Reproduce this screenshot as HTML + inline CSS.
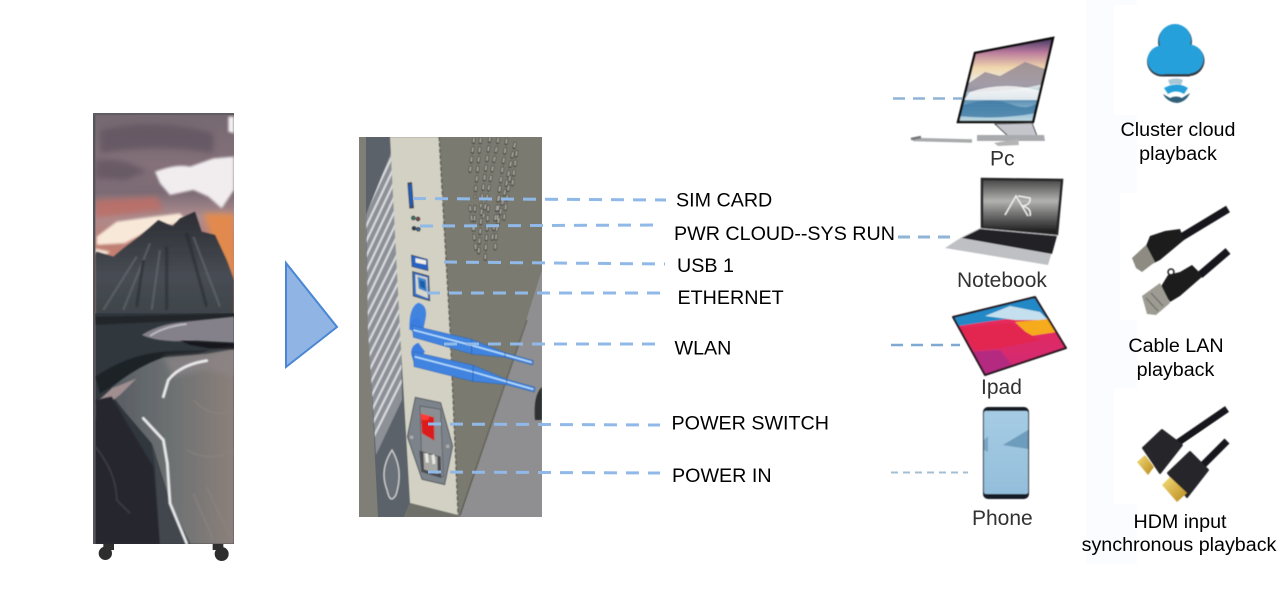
<!DOCTYPE html>
<html lang="en">
<head>
<meta charset="utf-8">
<title>Device connection diagram</title>
<style>
html,body{margin:0;padding:0;background:#fff;width:1283px;height:589px;overflow:hidden}
svg{display:block}
text{font-family:"Liberation Sans",Arial,sans-serif;font-size:19.7px;fill:#000}
.g{fill:#333;font-size:21px}
.d{fill:none;stroke:#91b9e8;stroke-width:3;stroke-dasharray:13 9}
.t{fill:none;stroke:#8fb4d6;stroke-width:2.5;stroke-dasharray:12 8}
</style>
</head>
<body>
<svg width="1283" height="589" viewBox="0 0 1283 589" xmlns="http://www.w3.org/2000/svg">
<defs>
<filter id="b1" x="-5%" y="-5%" width="110%" height="110%"><feGaussianBlur stdDeviation="2.2"/></filter>
<filter id="b4" x="-20%" y="-20%" width="140%" height="140%"><feGaussianBlur stdDeviation="4"/></filter>
<filter id="b2" x="-30%" y="-30%" width="160%" height="160%"><feGaussianBlur stdDeviation="9"/></filter>
<filter id="b3" x="-5%" y="-5%" width="110%" height="110%"><feGaussianBlur stdDeviation="0.55"/></filter>
<filter id="b5" x="-15%" y="-15%" width="130%" height="130%"><feGaussianBlur stdDeviation="1.5"/></filter>
<filter id="bt"><feGaussianBlur stdDeviation="0.35"/></filter>
<clipPath id="posterClip"><rect x="40" y="40" width="422" height="1292"/></clipPath>
<clipPath id="devClip"><rect x="359" y="137" width="183" height="380"/></clipPath>
<clipPath id="stripeClip"><polygon points="366,215 392,150 401,330 402,400 376,455 368,330"/></clipPath>
<clipPath id="pcClip"><polygon points="975,53 1053,38 1033,122 958,122"/></clipPath>
<clipPath id="padClip"><polygon points="953,317 1035,297 1066,348 985,375"/></clipPath>
<linearGradient id="sky" x1="0" y1="0" x2="0" y2="1">
<stop offset="0" stop-color="#756870"/><stop offset=".25" stop-color="#84717a"/><stop offset=".38" stop-color="#7b6b74"/>
<stop offset=".5" stop-color="#ad8d90"/><stop offset=".62" stop-color="#bb7d74"/><stop offset=".8" stop-color="#d5866c"/><stop offset="1" stop-color="#ee9a58"/>
</linearGradient>
<linearGradient id="sand" x1="0" y1="0" x2="1" y2="0">
<stop offset="0" stop-color="#585d63"/><stop offset=".5" stop-color="#6d7172"/><stop offset="1" stop-color="#8c807b"/>
</linearGradient>
<linearGradient id="mnt" x1="0" y1="0" x2="0" y2="1">
<stop offset="0" stop-color="#2c2d33"/><stop offset=".6" stop-color="#474c53"/><stop offset="1" stop-color="#3d4349"/>
</linearGradient>
<linearGradient id="pcs" x1="0" y1="0" x2="0" y2="1">
<stop offset="0" stop-color="#3f3560"/><stop offset=".17" stop-color="#b97a9c"/><stop offset=".35" stop-color="#efd6ac"/><stop offset=".55" stop-color="#eef0ee"/><stop offset=".75" stop-color="#5f93b6"/><stop offset="1" stop-color="#c3dde6"/>
</linearGradient>
<linearGradient id="nbs" x1="0" y1="0" x2="0" y2="1">
<stop offset="0" stop-color="#444"/><stop offset=".4" stop-color="#b2b2b0"/><stop offset=".65" stop-color="#6f6f6f"/><stop offset="1" stop-color="#141414"/>
</linearGradient>
<linearGradient id="pad" x1="0" y1="0" x2="0" y2="1">
<stop offset="0" stop-color="#f02a4e"/><stop offset="1" stop-color="#cf2a78"/>
</linearGradient>
<linearGradient id="ph" x1="0" y1="0" x2="0" y2="1">
<stop offset="0" stop-color="#a6cce4"/><stop offset="1" stop-color="#93bedb"/>
</linearGradient>
<linearGradient id="gold" x1="0" y1="0" x2="1" y2="1">
<stop offset="0" stop-color="#f5dc7a"/><stop offset="1" stop-color="#b98a1c"/>
</linearGradient>
</defs>

<!-- faint background panels -->
<g fill="#fbfcff">
<rect x="1086" y="0" width="51" height="5"/>
<rect x="1086" y="5" width="28" height="110"/>
<rect x="1086" y="115" width="51" height="78"/>
<rect x="1086" y="193" width="34" height="127"/>
<rect x="1086" y="320" width="51" height="68"/>
<rect x="1086" y="388" width="28" height="116"/>
<rect x="1086" y="504" width="51" height="60"/>
</g>

<!-- poster -->
<g transform="translate(80 100) scale(.33333)">
<g clip-path="url(#posterClip)">
<rect x="40" y="40" width="422" height="620" fill="url(#sky)"/>
<g filter="url(#b2)">
<path d="M60 90 Q220 50 400 100 L400 160 Q240 130 60 160Z" fill="#5e525e" opacity=".7"/>
<path d="M46 180 Q130 170 200 215 L140 240 L46 235Z" fill="#5e525e" opacity=".7"/>
<path d="M46 300 L230 290 L250 330 L46 355Z" fill="#bd6f66" opacity=".85"/>
<path d="M370 340 L462 340 L462 530 L425 500Z" fill="#e28a4e"/>
</g>
<g filter="url(#b4)">
<path d="M225 215 Q290 190 330 200 L400 175 L462 170 L462 270 L425 325 L385 290 L340 270 L270 285 L240 250Z" fill="#f1edef"/>
<path d="M445 50 L462 50 L462 100 L445 95Z" fill="#f3f1f2"/>
<path d="M50 410 L110 365 L220 350 L300 340 L320 362 L200 395 L135 430 L50 435Z" fill="#f8e8d8"/>
<path d="M46 445 L90 455 L70 472 L46 465Z" fill="#f3e6d8"/>
</g>
<path d="M50 455 L100 470 L130 445 L180 408 L235 360 L262 372 L278 378 L300 355 L345 335 L365 395 L405 405 L440 480 L462 540 L462 650 L46 655 L46 460Z" fill="url(#mnt)" filter="url(#b1)"/>
<g fill="none" opacity=".5" filter="url(#b1)">
<g stroke="#6e7379" stroke-width="7"><path d="M210 430 L130 630"/><path d="M170 470 L70 630"/><path d="M340 410 L420 620"/><path d="M240 450 L215 630"/></g>
<g stroke="#24262b" stroke-width="9"><path d="M260 440 L260 630"/><path d="M320 400 L380 620"/><path d="M190 480 L170 620"/></g>
</g>
<rect x="46" y="640" width="416" height="700" fill="#30373d"/>
<path d="M46 650 L462 640 L462 655 L46 675Z" fill="#23282c" filter="url(#b1)"/>
<path d="M185 705 Q240 670 320 665 L462 650 L462 728 L350 722 Q240 730 185 705Z" fill="#85818a" filter="url(#b1)"/>
<path d="M210 708 Q250 680 320 672" stroke="#c5c4c8" stroke-width="5" fill="none" filter="url(#b1)"/>
<path d="M300 722 L462 730 L462 748 L390 745 L330 735Z" fill="#16191c" filter="url(#b1)"/>
<path d="M46 830 Q150 760 260 755 L390 750 L340 768 L200 800 L60 880Z" fill="#1f2428" filter="url(#b1)"/>
<path d="M95 862 Q170 800 250 772 L380 762 L462 748 L462 1332 L330 1332 L270 1210 L215 1030 L130 930 L95 885Z" fill="url(#sand)" filter="url(#b1)"/>
<path d="M250 772 L380 762 L462 748 L462 830 L380 810 L280 830Z" fill="#8d8588" opacity=".7" filter="url(#b2)"/>
<path d="M95 865 L170 835 L120 885 L60 930 L46 960 L46 910Z" fill="#a08e90" filter="url(#b1)"/>
<path d="M46 900 L95 890 L135 960 L220 1100 L240 1332 L46 1332Z" fill="#26282e" filter="url(#b1)"/>
<path d="M215 1030 L270 1210 L330 1332 L240 1332 L225 1100Z" fill="#43474e" filter="url(#b1)"/>
<path d="M46 1040 Q110 1120 110 1200 L150 1240" stroke="#3f3d45" stroke-width="5" fill="none" filter="url(#b1)"/>
<g fill="none" stroke="#e8e8ea" filter="url(#b1)" stroke-linecap="round">
<path d="M250 890 L265 840 Q300 795 380 782" stroke-width="9"/>
<path d="M190 955 L250 1020 L262 1090 L270 1210 L320 1330" stroke-width="9"/>
</g>
<g fill="none" stroke="#8d8684" stroke-width="6" opacity=".5" filter="url(#b1)">
<path d="M340 900 Q400 960 460 930"/><path d="M320 1050 Q390 1090 460 1050"/><path d="M340 1180 L400 1320"/><path d="M380 1160 L450 1310"/>
</g>
</g>
<rect x="39" y="40" width="7" height="1292" fill="#56565a"/>
<rect x="39" y="39" width="423" height="6" fill="#5f5d62"/>
<g fill="#2e2e2f" filter="url(#b3)">
<rect x="70" y="1332" width="32" height="18"/>
<circle cx="76" cy="1360" r="20"/>
<rect x="398" y="1332" width="32" height="18"/>
<circle cx="425" cy="1362" r="21"/>
</g>
</g>

<!-- triangle -->
<polygon points="286,263 337,327 286,367" fill="#90b5e4" stroke="#4a86d4" stroke-width="2"/>

<!-- device -->
<g clip-path="url(#devClip)">
<rect x="359" y="137" width="183" height="380" fill="#7b7a70"/>
<polygon points="542,270 523,330 460,517 542,517" fill="#8f8e90"/>
<polygon points="359,137 366,137 378,517 359,517" fill="#7f7f78"/>
<polygon points="366,137 390,137 400,330 410,503 404,517 378,517 372,400 366,250" fill="#5c626a"/>
<g filter="url(#b3)">
<polygon points="366,215 392,150 401,330 402,400 376,455 368,330" fill="#8d9197"/>
<g clip-path="url(#stripeClip)" stroke="#d6d8da" stroke-width="2.2">
<path d="M362 205 L400 125"/><path d="M362 220 L400 140"/><path d="M362 235 L400 155"/><path d="M362 250 L400 170"/><path d="M362 265 L400 185"/><path d="M362 280 L400 200"/><path d="M362 295 L400 215"/><path d="M362 310 L400 230"/><path d="M362 325 L402 245"/><path d="M362 340 L402 260"/><path d="M362 355 L402 275"/><path d="M362 370 L402 290"/><path d="M362 385 L402 305"/><path d="M362 400 L402 320"/><path d="M362 415 L402 335"/><path d="M362 430 L402 350"/><path d="M362 445 L402 365"/><path d="M362 460 L402 380"/>
</g>
<path d="M387 490 Q379 470 392 450 Q404 470 396 495 Q390 505 387 490Z" fill="#6b7077" stroke="#c9cbcd" stroke-width="1.5"/>
<polygon points="390,137 439,137 450,330 458,515 410,503 400,330" fill="#d2d1c4"/>
<path d="M439 137 L450 330 L458 515" stroke="#55544e" stroke-width="1.2" fill="none" stroke-dasharray="4 2"/>
<polygon points="410,503 458,515 458,517 404,517" fill="#6f6f6a"/>
<path d="M527 320 L460 515" stroke="#5f5e57" stroke-width="1.2" fill="none"/>
<path d="M535 420 Q533 395 542 387 L542 420Z" fill="#2f3030"/>
<!-- vents -->
<g fill="none" stroke-linecap="round" transform="translate(350 130) scale(.33333)">
<g stroke="#44443f" stroke-width="9" stroke-dasharray="13 16">
<path d="M372 25 L360 125"/><path d="M392 25 L375 200"/><path d="M420 22 L392 230"/><path d="M445 25 L400 260"/><path d="M470 28 L425 340"/><path d="M495 40 L440 300"/><path d="M375 230 L372 300"/><path d="M395 240 L385 380"/><path d="M415 230 L405 395"/><path d="M450 170 L435 360"/><path d="M480 140 L460 280"/><path d="M500 65 L485 180"/><path d="M360 230 L378 360"/>
</g>
<g stroke="#a8a79f" stroke-width="5" stroke-dasharray="11 18">
<path d="M372 25 L360 125"/><path d="M392 25 L375 200"/><path d="M420 22 L392 230"/><path d="M445 25 L400 260"/><path d="M470 28 L425 340"/><path d="M495 40 L440 300"/><path d="M375 230 L372 300"/><path d="M395 240 L385 380"/><path d="M415 230 L405 395"/><path d="M450 170 L435 360"/><path d="M480 140 L460 280"/><path d="M500 65 L485 180"/><path d="M360 230 L378 360"/>
</g>
</g>
<!-- ports -->
<g transform="translate(350 130) scale(.33333)">
<polygon points="172,158 186,156 192,235 178,236" fill="#3a4a60"/>
<polygon points="176,165 184,164 187,228 181,228" fill="#1f5fc4"/>
<g fill="#2e3e48"><circle cx="190" cy="264" r="7"/><circle cx="204" cy="267" r="7"/><circle cx="192" cy="295" r="7"/><circle cx="205" cy="298" r="7"/></g>
<circle cx="190" cy="264" r="3" fill="#3aa060"/><circle cx="204" cy="267" r="3" fill="#c04040"/><circle cx="205" cy="298" r="3" fill="#4080d0"/>
<polygon points="184,375 232,388 234,422 186,410" fill="#2763c4" stroke="#3b3f45" stroke-width="2"/>
<polygon points="196,384 228,391 228,404 197,398" fill="#f0efe6"/>
<polygon points="188,425 236,438 239,512 190,498" fill="#2d6fc8" stroke="#44484e" stroke-width="3"/>
<polygon points="196,433 232,443 234,505 198,491" fill="#d8d7ca"/>
<polygon points="203,440 228,448 231,486 206,476" fill="#3f86cf"/>
<polygon points="208,450 224,455 226,478 211,470" fill="#1f5fa8"/>
<path d="M178 590 Q178 530 205 518 Q232 525 228 560 L220 600 L178 600Z" fill="#3f84e0"/>
</g>
<!-- antennas and fuse -->
<g transform="translate(350 320) scale(.33333)">
<path d="M180 22 Q176 0 205 -8 L222 35 Q190 52 180 22Z" fill="#3a7de0"/>
<path d="M186 16 L365 58 L465 98 L550 122 L548 135 L465 112 L365 102 L190 52 Z" fill="#3f84e0" stroke="#2b5fa8" stroke-width="1.5"/>
<path d="M190 30 L365 76 L465 104 L545 127" fill="none" stroke="#b5dbfb" stroke-width="5"/>
<path d="M365 58 L365 102 M465 98 L465 112" stroke="#2458a4" stroke-width="2" fill="none"/>
<path d="M184 105 Q180 78 205 68 L225 95 L195 140Z" fill="#3a7de0"/>
<path d="M190 95 L370 136 L470 178 L555 202 L553 216 L470 194 L368 184 L192 140 Z" fill="#3f84e0" stroke="#2b5fa8" stroke-width="1.5"/>
<path d="M194 110 L370 156 L470 185 L550 208" fill="none" stroke="#b5dbfb" stroke-width="5"/>
<path d="M370 136 L368 184 M470 178 L470 194" stroke="#2458a4" stroke-width="2" fill="none"/>
<polygon points="196,232 272,248 308,378 284,494 216,478 172,350" fill="#7d838b" stroke="#52565c" stroke-width="3"/>
<polygon points="210,258 272,268 280,470 216,452" fill="#8b8e92" stroke="#4e5257" stroke-width="2"/>
<polygon points="212,281 252,292 253,362 216,340" fill="#dc1a1c"/>
<polygon points="212,281 240,288 234,300 215,300" fill="#ff3a30"/>
<polygon points="208,392 272,410 274,474 214,456" fill="#4b4e52"/>
<polygon points="220,398 262,410 263,462 222,448" fill="#a7a8a4"/>
<g fill="#e6e6e2"><rect x="226" y="400" width="9" height="28" transform="rotate(-6 230 414)"/><rect x="246" y="404" width="9" height="28" transform="rotate(-6 250 418)"/></g>
<circle cx="185" cy="352" r="7" fill="#a8aaab" stroke="#555"/><circle cx="293" cy="379" r="7" fill="#a8aaab" stroke="#555"/>
</g>
</g>
</g>

<!-- connectors (device) -->
<path class="d" d="M413 198.500 L666 200"/>
<path class="d" d="M420 226 L655 225"/>
<path class="d" d="M444 262 L665 264"/>
<path class="d" d="M427 293 L663 293"/>
<path class="d" d="M444 344 L660 344"/>
<path class="d" d="M428 424 L660 425"/>
<path class="d" d="M428 472 L660 473"/>

<!-- device labels -->
<text x="676" y="206.500">SIM CARD</text>
<text x="674" y="240">PWR CLOUD--SYS RUN</text>
<text x="677" y="272">USB 1</text>
<text x="677.500" y="304">ETHERNET</text>
<text x="674.500" y="354.500">WLAN</text>
<text x="671.500" y="429.500">POWER SWITCH</text>
<text x="672" y="482">POWER IN</text>

<!-- connectors (clients) -->
<path class="t" d="M893 98.500 L962 98.500" stroke-dasharray="10 6"/>
<path class="t" d="M898 237 L958 237" style="stroke-width:3"/>
<path class="t" d="M891 345 L960 345" style="stroke:#7fa9d0"/>
<path class="t" d="M891 472.500 L968 472.500" style="stroke:#a5bfd2;stroke-width:2;stroke-dasharray:7 5"/>

<!-- PC -->
<g filter="url(#b3)">
<polygon points="975,53 1053,38 1033,122 958,122" fill="url(#pcs)"/>
<g clip-path="url(#pcClip)">
<path d="M966 85 L985 72 L1000 76 L1025 62 L1048 70 L1044 84 Q1010 92 966 92Z" fill="#8a8090" opacity=".75"/>
<path d="M970 92 Q1005 80 1045 92 L1040 100 L964 100Z" fill="#fbfbfa" opacity=".8"/>
<path d="M960 106 Q990 96 1010 104 T1040 100 L1036 113 Q1000 120 958 116Z" fill="#3f7ba5" opacity=".8"/>
</g>
<polygon points="975,53 1053,38 1033,122 958,122" fill="none" stroke="#111" stroke-width="2.500"/>
<polygon points="995,124 1032,123 1037,136 1008,136" fill="#c4c6cc" stroke="#444" stroke-width="1"/>
<polygon points="977,135 1044,135 1045,141 977,141" fill="#a9aaae"/>
<polygon points="994,143 1018,139 1019,145 998,146" fill="#b4b4b6"/>
<path d="M913 139.500 L972 141" stroke="#a9aaac" stroke-width="3.500"/>
<path d="M911 139 L921 137" stroke="#777" stroke-width="2.500"/>
</g>
<text class="g" x="990" y="165.500" filter="url(#bt)">Pc</text>

<!-- Notebook -->
<g filter="url(#b3)">
<polygon points="982,179 1062,180 1057,234 982,228" fill="url(#nbs)" stroke="#252527" stroke-width="2.500"/>
<polygon points="980,228 1057,235 1048,265 945,248 962,237" fill="#bfc0c4"/>
<polygon points="980,229 1057,236 1052,254 962,238" fill="#222327"/>
<path d="M1005 215 L1016 196 L1028 216 M1018 196 L1030 198 Q1031 205 1022 206 Q1032 208 1030 216" stroke="#eee" stroke-width="1.500" fill="none"/>
</g>
<text class="g" x="957" y="287" filter="url(#bt)">Notebook</text>

<!-- Ipad -->
<g filter="url(#b3)">
<polygon points="953,317 1035,297 1066,348 985,375" fill="url(#pad)"/>
<g clip-path="url(#padClip)">
<polygon points="950,316 1036,296 1050,320 1015,318 985,322 958,326" fill="#2389c6"/>
<polygon points="985,316 1010,306 1040,312 1048,320 1015,320" fill="#c4e0ee"/>
<polygon points="1015,322 1049,319 1057,332 1030,336" fill="#f6ab1e"/>
<polygon points="960,328 1010,323 1040,340 1000,348 975,350" fill="#e2254f"/>
<polygon points="972,352 1000,350 1012,365 985,376" fill="#b42a80"/>
</g>
<polygon points="953,317 1035,297 1066,348 985,375" fill="none" stroke="#22181f" stroke-width="2" stroke-linejoin="round"/>
</g>
<text class="g" x="981" y="394" filter="url(#bt)">Ipad</text>

<!-- Phone -->
<g filter="url(#b3)">
<rect x="983" y="407" width="46" height="92" rx="5" fill="#141a26"/>
<rect x="984" y="411" width="44" height="83" rx="2" fill="url(#ph)"/>
<path d="M1003 445 L1028 430 L1028 449 Q1015 447 1003 445Z" fill="#6d9cbc"/>
<path d="M984 440 L988 436 L988 452 L984 450Z" fill="#7aa5c2"/>
</g>
<text class="g" x="972" y="525" filter="url(#bt)">Phone</text>

<!-- Cloud -->
<g transform="translate(1080 0)" filter="url(#b3)">
<g fill="#33383c" transform="translate(0 1.500)">
<circle cx="95" cy="40" r="17"/><circle cx="82" cy="60" r="15"/><circle cx="109" cy="59" r="15.500"/><rect x="82" y="50" width="28" height="25"/>
</g>
<g fill="#26a0da">
<circle cx="95" cy="40" r="16"/><circle cx="82" cy="60" r="14.500"/><circle cx="109" cy="59" r="14.500"/><rect x="80" y="44" width="30" height="30"/>
</g>
<path d="M88 80 Q97 77 103 80 L101 85 Q96 83 90 85Z" fill="#a9c8d6"/>
<path d="M84 88 Q97 81 108 88 L104 94 Q96 89 88 94Z" fill="#26a0da"/>
<path d="M83 94 L90 98 Q96 95 102 98 L110 93 Q106 102 97 103 Q87 102 83 94Z" fill="#30607a"/>
</g>
<text x="1178" y="136" text-anchor="middle">Cluster cloud</text>
<text x="1178" y="160" text-anchor="middle">playback</text>

<!-- LAN cable -->
<g filter="url(#b3)">
<path d="M1180 238 L1228 209" stroke="#17171a" stroke-width="7.500" fill="none"/>
<path d="M1200 275 L1228 251" stroke="#17171a" stroke-width="7.500" fill="none"/>
<polygon points="1146,246 1150,236 1165,231 1180,229 1184,240 1160,260 1152,264" fill="#1a1a1d"/>
<polygon points="1132,258 1146,245 1155,262 1142,272 1136,268" fill="#8d8b82"/>
<polygon points="1168,275 1180,272 1192,265 1203,276 1180,296 1170,302 1160,288" fill="#1a1a1d"/>
<circle cx="1171" cy="272" r="3" fill="none" stroke="#222" stroke-width="1.500"/>
<polygon points="1142,296 1160,283 1170,303 1156,315 1147,314" fill="#9d9b92"/>
<path d="M1146 298 L1158 311 M1151 293 L1163 306" stroke="#666" stroke-width="1"/>
</g>
<text x="1176" y="352" text-anchor="middle">Cable LAN</text>
<text x="1175.500" y="376" text-anchor="middle">playback</text>

<!-- HDMI cable -->
<g filter="url(#b3)">
<path d="M1176 444 L1227 409" stroke="#17171a" stroke-width="7" fill="none"/>
<path d="M1178 448 L1227 416" stroke="#fff" stroke-width=".8" fill="none" opacity=".6"/>
<path d="M1200 468 L1227 441" stroke="#17171a" stroke-width="7" fill="none"/>
<polygon points="1143,448 1162,430 1182,445 1160,473" fill="#27272a" stroke="#27272a" stroke-width="2" stroke-linejoin="round"/>
<polygon points="1137,462 1145,455 1154,467 1148,475" fill="url(#gold)"/>
<polygon points="1168,473 1190,452 1208,470 1187,497" fill="#27272a" stroke="#27272a" stroke-width="2" stroke-linejoin="round"/>
<polygon points="1162,485 1170,477 1187,493 1177,502" fill="url(#gold)"/>
</g>
<text x="1180" y="528" text-anchor="middle">HDM input</text>
<text x="1179" y="551" text-anchor="middle">synchronous playback</text>
</svg>
</body>
</html>
